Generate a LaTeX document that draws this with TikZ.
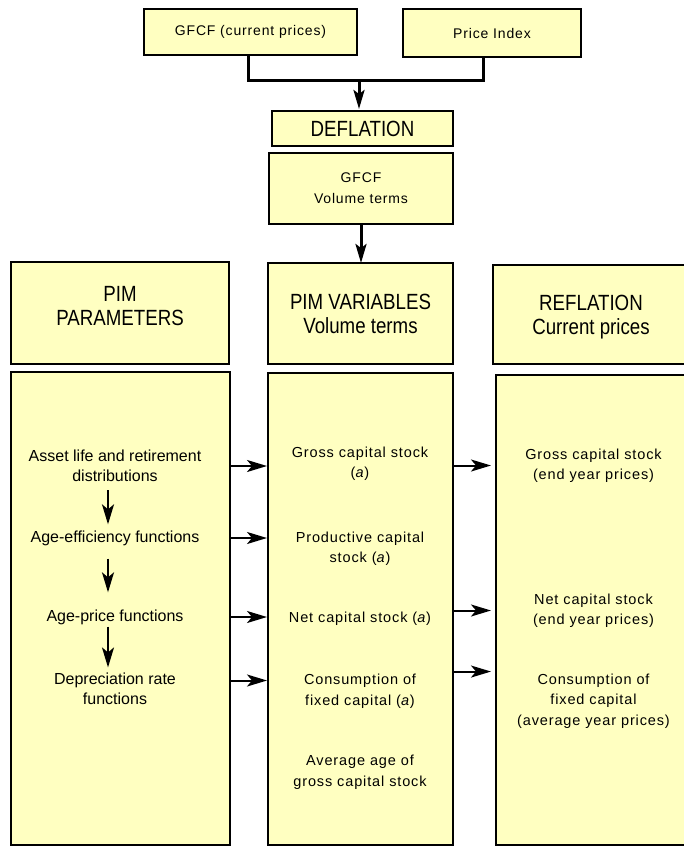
\documentclass[tikz,border=0pt]{standalone}
\usepackage{fontspec}
\setmainfont{Liberation Sans}
\newfontfamily\headfont{Liberation Sans}[FakeStretch=0.85]
\newfontfamily\itemfont{Liberation Sans}[LetterSpace=6]
\usepackage{xcolor}
\usetikzlibrary{arrows.meta, positioning}
\definecolor{boxyellow}{HTML}{FFFFC1}

\begin{document}
\begin{tikzpicture}[
x=1pt, y=-1pt,
box/.style={draw, line width=2pt, fill=boxyellow, inner sep=0pt, outer sep=0pt, align=center},
head/.style={box, font=\headfont\fontsize{22}{24}\selectfont},
topbox/.style={box, font=\itemfont\fontsize{14}{21}\selectfont},
item/.style={align=center, inner sep=2pt, font=\itemfont\fontsize{14.5}{20.5}\selectfont},
param/.style={align=center, inner sep=2pt, font=\fontsize{16}{20}\selectfont},
link/.style={line width=3pt},
arrow/.style={-{Stealth[length=20pt,width=12pt,inset=5pt]}, line width=2pt},
bigarrow/.style={-{Stealth[length=19pt,width=11pt,inset=4pt]}, line width=3pt}
]

\fill[white] (0,0) rectangle (683,846);
\useasboundingbox (0,0) rectangle (683,846);

\node[topbox, minimum width=213pt, minimum height=46pt] (gfcf) at (250.5,32) {GFCF (current prices)};
\node[topbox, minimum width=178pt, minimum height=48pt] (pindex) at (492,33) {Price Index};
\node[head, minimum width=181pt, minimum height=35pt] (deflation) at (362.5,128.5) {DEFLATION};
\node[topbox, minimum width=184pt, minimum height=71pt] (gfcfvol) at (361,188.5) {GFCF\\Volume terms};

\node[head, minimum width=218pt, minimum height=102pt, text depth=14pt] (pimpar) at (120,313) {PIM\\PARAMETERS};
\node[head, minimum width=185pt, minimum height=101pt] (pimvar) at (360.5,313.5) {PIM VARIABLES\\Volume terms};
\node[head, minimum width=196pt, minimum height=99pt, text depth=0pt] (reflation) at (591,314.5) {REFLATION\\Current prices};

\node[box, minimum width=219pt, minimum height=473pt] (parbox) at (120.5,608.5) {};
\node[box, minimum width=185pt, minimum height=472pt] (varbox) at (360.5,609) {};
\node[box, minimum width=195pt, minimum height=470pt] (refbox) at (593.5,610) {};

\node[param] (pLife) at (115,466) {Asset life and retirement\\distributions};
\node[param] (pEff) at (115,538) {Age-efficiency functions};
\node[param] (pPrice) at (115,617) {Age-price functions};
\node[param] (pDep) at (115,688.5) {Depreciation rate\\functions};

\node[item] (vGross) at (360,463.5) {Gross capital stock\\(\textit{a})};
\node[item] (vProd) at (360,548.5) {Productive capital\\stock (\textit{a})};
\node[item] (vNet) at (360,619) {Net capital stock (\textit{a})};
\node[item] (vCons) at (360,691) {Consumption of\\fixed capital (\textit{a})};
\node[item] (vAge) at (360,772) {Average age of\\gross capital stock};

\node[item] (rGross) at (593.5,465.5) {Gross capital stock\\(end year prices)};
\node[item] (rNet) at (593.5,610.5) {Net capital stock\\(end year prices)};
\node[item] (rCons) at (593.5,701) {Consumption of\\fixed capital\\(average year prices)};

\coordinate (join) at (359,80);
\draw[link] ([xshift=-2.5pt]gfcf.south) |- (join) -| ([xshift=-9pt]pindex.south);
\draw[bigarrow, shorten >=2pt] (join) -- (join |- deflation.north);
\draw[bigarrow] (gfcfvol.south) -- (gfcfvol.south |- pimvar.north);

\draw[arrow, shorten <=6pt, shorten >=4pt] ([xshift=-7pt]pLife.south) -- ([xshift=-7pt]pEff.north);
\draw[arrow, shorten <=11pt, shorten >=15pt] ([xshift=-7pt]pEff.south) -- ([xshift=-7pt]pPrice.north);
\draw[arrow, shorten >=3pt] ([xshift=-7pt]pPrice.south) -- ([xshift=-7pt]pDep.north);

\draw[arrow, shorten >=1pt] (pLife -| parbox.east) -- (pLife -| varbox.west);
\draw[arrow, shorten >=1pt] (pEff -| parbox.east) -- (pEff -| varbox.west);
\draw[arrow, shorten >=1pt] (pPrice -| parbox.east) -- (pPrice -| varbox.west);
\draw[arrow, shorten >=1pt] ([yshift=8pt]pDep.center -| parbox.east) -- ([yshift=8pt]pDep.center -| varbox.west);

\draw[arrow, shorten >=5pt] (rGross -| varbox.east) -- (rGross -| refbox.west);
\draw[arrow, shorten >=5pt] (rNet -| varbox.east) -- (rNet -| refbox.west);
\draw[arrow, shorten >=5pt] (rCons.north -| varbox.east) -- (rCons.north -| refbox.west);

\end{tikzpicture}
\end{document}
